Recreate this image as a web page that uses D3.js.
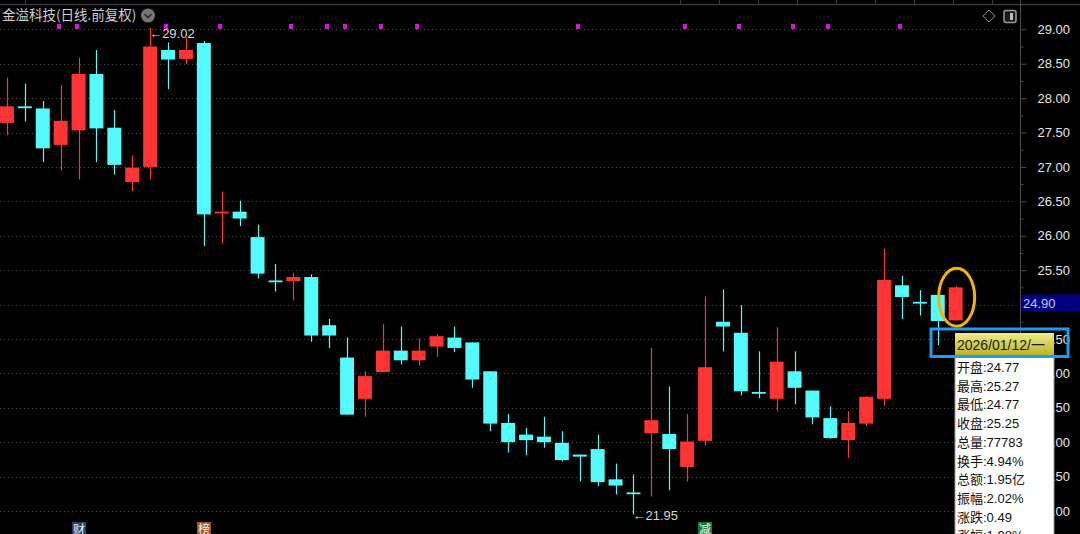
<!DOCTYPE html>
<html lang="zh-CN">
<head>
    <meta charset="UTF-8">
    <title>金溢科技 日线</title>
    <script src="https://cdn.jsdelivr.net/npm/d3@7"></script>
    <style>
        body { margin: 0; background: #000; overflow: hidden; }
        svg { display: block; }
        text { font-family: "Liberation Sans", "Noto Sans CJK SC", sans-serif; }
    </style>
</head>
<body>
<svg id="chart" width="1080" height="534"></svg>
<script>
    // daily bars, oldest first (last bar = 2026/01/12)
    var opens  = [27.64, 27.88, 27.85, 27.32, 27.53, 28.35, 27.57, 26.78, 27.00, 28.70,
                  28.57, 28.80, 26.33, 26.35, 25.98, 25.35, 25.34, 25.40, 24.70, 24.23,
                  23.63, 24.02, 24.33, 24.19, 24.39, 24.52, 24.45, 24.03, 23.28, 23.11,
                  23.08, 22.99, 22.82, 22.90, 22.46, 22.27, 23.13, 23.12, 22.64, 23.02,
                  24.75, 24.59, 23.73, 23.63, 24.03, 23.75, 23.35, 23.03, 23.27, 23.63,
                  25.28, 25.04, 25.14, 24.77];
    var highs  = [28.30, 28.21, 27.96, 28.19, 28.59, 28.70, 27.83, 27.17, 29.02, 28.81,
                  28.88, 28.83, 26.64, 26.51, 26.16, 25.59, 25.46, 25.44, 24.79, 24.52,
                  24.03, 24.72, 24.68, 24.51, 24.57, 24.68, 24.45, 24.03, 23.41, 23.21,
                  23.37, 23.16, 22.82, 23.11, 22.69, 22.53, 24.37, 23.81, 23.41, 25.12,
                  25.22, 24.99, 24.32, 24.67, 24.32, 23.75, 23.52, 23.45, 23.67, 25.81,
                  25.42, 25.21, 25.14, 25.27];
    var lows   = [27.46, 27.66, 27.07, 26.95, 26.82, 27.07, 26.89, 26.65, 26.82, 28.13,
                  28.50, 25.85, 25.89, 26.14, 25.38, 25.19, 25.06, 24.46, 24.37, 23.40,
                  23.37, 24.02, 24.13, 24.11, 24.24, 24.31, 23.79, 23.16, 22.85, 22.81,
                  22.92, 22.72, 22.43, 22.36, 22.24, 21.95, 22.21, 22.30, 22.43, 22.95,
                  24.32, 23.68, 23.64, 23.45, 23.55, 23.26, 23.05, 22.77, 23.23, 23.53,
                  24.79, 24.84, 24.41, 24.77];
    var closes = [27.88, 27.87, 27.27, 27.67, 28.35, 27.56, 27.03, 26.99, 28.75, 28.56,
                  28.70, 26.31, 26.35, 26.25, 25.45, 25.34, 25.40, 24.55, 24.55, 23.40,
                  23.96, 24.33, 24.19, 24.33, 24.54, 24.37, 23.91, 23.27, 23.00, 23.03,
                  23.00, 22.74, 22.79, 22.42, 22.37, 22.26, 23.32, 22.90, 23.01, 24.09,
                  24.68, 23.74, 23.72, 24.17, 23.79, 23.36, 23.06, 23.28, 23.66, 25.36,
                  25.11, 25.03, 24.76, 25.25];
    var slotCount = 57;   // bars + empty slots before the axis
    var priceTicks = [22, 22.5, 23, 23.5, 24, 24.5, 25, 25.5, 26, 26.5, 27, 27.5, 28, 28.5, 29];
    var minorTicks = [22.25, 22.75, 23.25, 23.75, 24.25, 24.75, 25.25, 25.75, 26.25, 26.75, 27.25, 27.75, 28.25, 28.75];
    var dotBars = [3, 4, 9, 12, 16, 18, 19, 21, 23, 32, 38, 41, 44, 46, 50];
    var flagBars = [4, 11, 39];
    var flagTexts = ["财", "榜", "减"];
    var lastPrice = 24.90;
    var titleText = "金溢科技(日线.前复权)";
    var tipDate = "2026/01/12/一";
    var tipLabels = ["开盘", "最高", "最低", "收盘", "总量", "换手", "总额", "振幅", "涨跌", "涨幅"];
    var tipValues = ["24.77", "25.27", "24.77", "25.25", "77783", "4.94%", "1.95亿", "2.02%", "0.49", "1.98%"];

    var UP = "#ff3434", DOWN = "#55fafa";
    var flagColors = ["#1c4478", "#9a561e", "#1d7a30"];

    var svg = d3.select("#chart");
    var W = 1080, H = 534, axisX = 1020.5;

    var x = d3.scaleBand().domain(d3.range(slotCount)).range([-2, 1018.3])
        .paddingInner(0.22).paddingOuter(0.11);
    var y = d3.scaleLinear().domain([22, 29]).range([511, 29.3]);
    function cx(i) { return x(i) + x.bandwidth() / 2; }

    svg.append("rect").attr("width", W).attr("height", H).attr("fill", "#000");

    // top separator with small ticks of the panel above
    svg.append("line").attr("x1", 0).attr("x2", W).attr("y1", 4.5).attr("y2", 4.5)
        .attr("stroke", "#3a3a3a").attr("stroke-width", 1.5);
    svg.selectAll(".topTick").data([25].concat(d3.range(680, 1020, 39))).enter().append("line")
        .attr("x1", function (d) { return d + 0.5; }).attr("x2", function (d) { return d + 0.5; })
        .attr("y1", 0).attr("y2", 4).attr("stroke", "#3a3a3a");

    // dotted grid
    svg.append("g").selectAll("line").data(priceTicks).enter().append("line")
        .attr("x1", 0).attr("x2", 1016)
        .attr("y1", function (d) { return Math.round(y(d)) + 0.5; })
        .attr("y2", function (d) { return Math.round(y(d)) + 0.5; })
        .attr("stroke", "#4a4a4a").attr("stroke-dasharray", "1 3");

    // right axis
    svg.append("line").attr("x1", axisX).attr("x2", axisX).attr("y1", 0).attr("y2", H)
        .attr("stroke", "#4d4d4d");
    var axis = d3.axisRight(y).tickValues(priceTicks).tickSize(6).tickSizeOuter(0)
        .tickPadding(11).tickFormat(d3.format(".2f"));
    var gAxis = svg.append("g").attr("transform", "translate(" + axisX + ",0)").call(axis);
    gAxis.select(".domain").remove();
    gAxis.selectAll("line").attr("stroke", "#4d4d4d");
    gAxis.selectAll("text").attr("fill", "#e6e6e6").style("font-size", "13px")
        .style("font-family", "'Liberation Sans', sans-serif");
    var gMinor = svg.append("g").attr("transform", "translate(" + axisX + ",0)")
        .call(d3.axisRight(y).tickValues(minorTicks).tickSize(3).tickSizeOuter(0).tickFormat(""));
    gMinor.select(".domain").remove();
    gMinor.selectAll("line").attr("stroke", "#4d4d4d");

    // candles
    var bars = d3.range(opens.length);
    var candle = svg.append("g").selectAll("g").data(bars).enter().append("g");
    candle.append("line")
        .attr("x1", function (i) { return Math.round(cx(i)) + 0.5; })
        .attr("x2", function (i) { return Math.round(cx(i)) + 0.5; })
        .attr("y1", function (i) { return y(highs[i]); })
        .attr("y2", function (i) { return y(lows[i]); })
        .attr("stroke", function (i) { return closes[i] >= opens[i] ? UP : DOWN; })
        .attr("stroke-width", 1.2);
    candle.append("rect")
        .attr("x", function (i) { return x(i); })
        .attr("width", x.bandwidth())
        .attr("y", function (i) { return y(Math.max(opens[i], closes[i])); })
        .attr("height", function (i) { return Math.max(1.8, Math.abs(y(opens[i]) - y(closes[i]))); })
        .attr("fill", function (i) { return closes[i] >= opens[i] ? UP : DOWN; });

    // highest / lowest markers
    var hiIdx = d3.maxIndex(highs), loIdx = d3.minIndex(lows);
    svg.append("text").attr("x", cx(hiIdx) - 1).attr("y", y(highs[hiIdx]) + 10)
        .attr("fill", "#d8d8d8").style("font-size", "13px").text("←" + highs[hiIdx].toFixed(2));
    svg.append("text").attr("x", cx(loIdx) - 1).attr("y", y(lows[loIdx]) + 6)
        .attr("fill", "#d8d8d8").style("font-size", "13px").text("←" + lows[loIdx].toFixed(2));

    // magenta signal dots
    svg.append("g").selectAll("rect").data(dotBars).enter().append("rect")
        .attr("x", function (i) { return Math.round(cx(i)) - 4; })
        .attr("y", 24).attr("width", 4).attr("height", 5).attr("fill", "#d21ad2");

    // event flags at the bottom
    var flag = svg.append("g").selectAll("g").data(flagBars).enter().append("g")
        .attr("transform", function (i) { return "translate(" + (Math.round(cx(i)) - 7) + ",522)"; });
    flag.append("rect").attr("width", 14).attr("height", 14)
        .attr("fill", function (d, k) { return flagColors[k]; });
    flag.append("text").attr("x", 7).attr("y", 11.5).attr("text-anchor", "middle")
        .attr("fill", "#f2f2f2").style("font-size", "12px")
        .style("font-family", "'Noto Sans CJK SC'")
        .text(function (d, k) { return flagTexts[k]; });

    // title + buttons
    svg.append("text").attr("x", 2).attr("y", 20).attr("fill", "#cfcfcf")
        .style("font-size", "13.5px").style("font-family", "'Noto Sans CJK SC'").text(titleText);
    svg.append("circle").attr("cx", 148).attr("cy", 15.5).attr("r", 7).attr("fill", "#777");
    svg.append("path").attr("d", "M144.5,14 L148,17.5 L151.5,14").attr("fill", "none")
        .attr("stroke", "#2a2a2a").attr("stroke-width", 1.6);
    svg.append("path").attr("d", "M989,10 L995,16 L989,22 L983,16 Z").attr("fill", "none")
        .attr("stroke", "#8a8a8a");
    svg.append("rect").attr("x", 1004).attr("y", 10.5).attr("width", 12).attr("height", 12)
        .attr("rx", 2).attr("fill", "#1a1a1a").attr("stroke", "#9a9a9a").attr("stroke-width", 1.5);
    svg.append("rect").attr("x", 1010).attr("y", 13).attr("width", 3).attr("height", 7).attr("fill", "#bbb");

    // last price tag on the axis
    var tagY = y(lastPrice);
    svg.append("rect").attr("x", 1021).attr("y", tagY - 17).attr("width", 59).attr("height", 17)
        .attr("fill", "#00007c");
    svg.append("text").attr("x", 1023).attr("y", tagY - 3.5).attr("fill", "#c4c4ff")
        .style("font-size", "13px").text(lastPrice.toFixed(2));

    // highlight ring on the last bar
    var last = opens.length - 1;
    svg.append("ellipse").attr("cx", cx(last) + 1)
        .attr("cy", (y(highs[last]) + y(lows[last])) / 2 - 6)
        .attr("rx", 18).attr("ry", 29).attr("fill", "none")
        .attr("stroke", "#f4b400").attr("stroke-width", 3);

    // info box
    var defs = svg.append("defs");
    var grad = defs.append("linearGradient").attr("id", "dateGrad")
        .attr("x1", 0).attr("y1", 0).attr("x2", 0).attr("y2", 1);
    grad.append("stop").attr("offset", "0%").attr("stop-color", "#eeee8a");
    grad.append("stop").attr("offset", "100%").attr("stop-color", "#b8b020");

    var tip = svg.append("g");
    tip.append("rect").attr("x", 955).attr("y", 356).attr("width", 99).attr("height", 190)
        .attr("fill", "#fff").attr("stroke", "#999");
    tip.append("rect").attr("x", 955).attr("y", 333).attr("width", 99).attr("height", 23)
        .attr("fill", "url(#dateGrad)");
    tip.append("text").attr("x", 957).attr("y", 349.5).attr("fill", "#1a1a1a")
        .style("font-size", "14px").text(tipDate);
    tip.selectAll(".row").data(tipLabels).enter().append("text")
        .attr("x", 957).attr("y", function (d, k) { return 372 + k * 18.7; })
        .attr("fill", "#111").style("font-size", "13px")
        .text(function (d, k) { return d + ":" + tipValues[k]; });
    tip.append("rect").attr("x", 931).attr("y", 329).attr("width", 137).attr("height", 27.5)
        .attr("fill", "none").attr("stroke", "#1e9cf0").attr("stroke-width", 3);
</script>
</body>
</html>
